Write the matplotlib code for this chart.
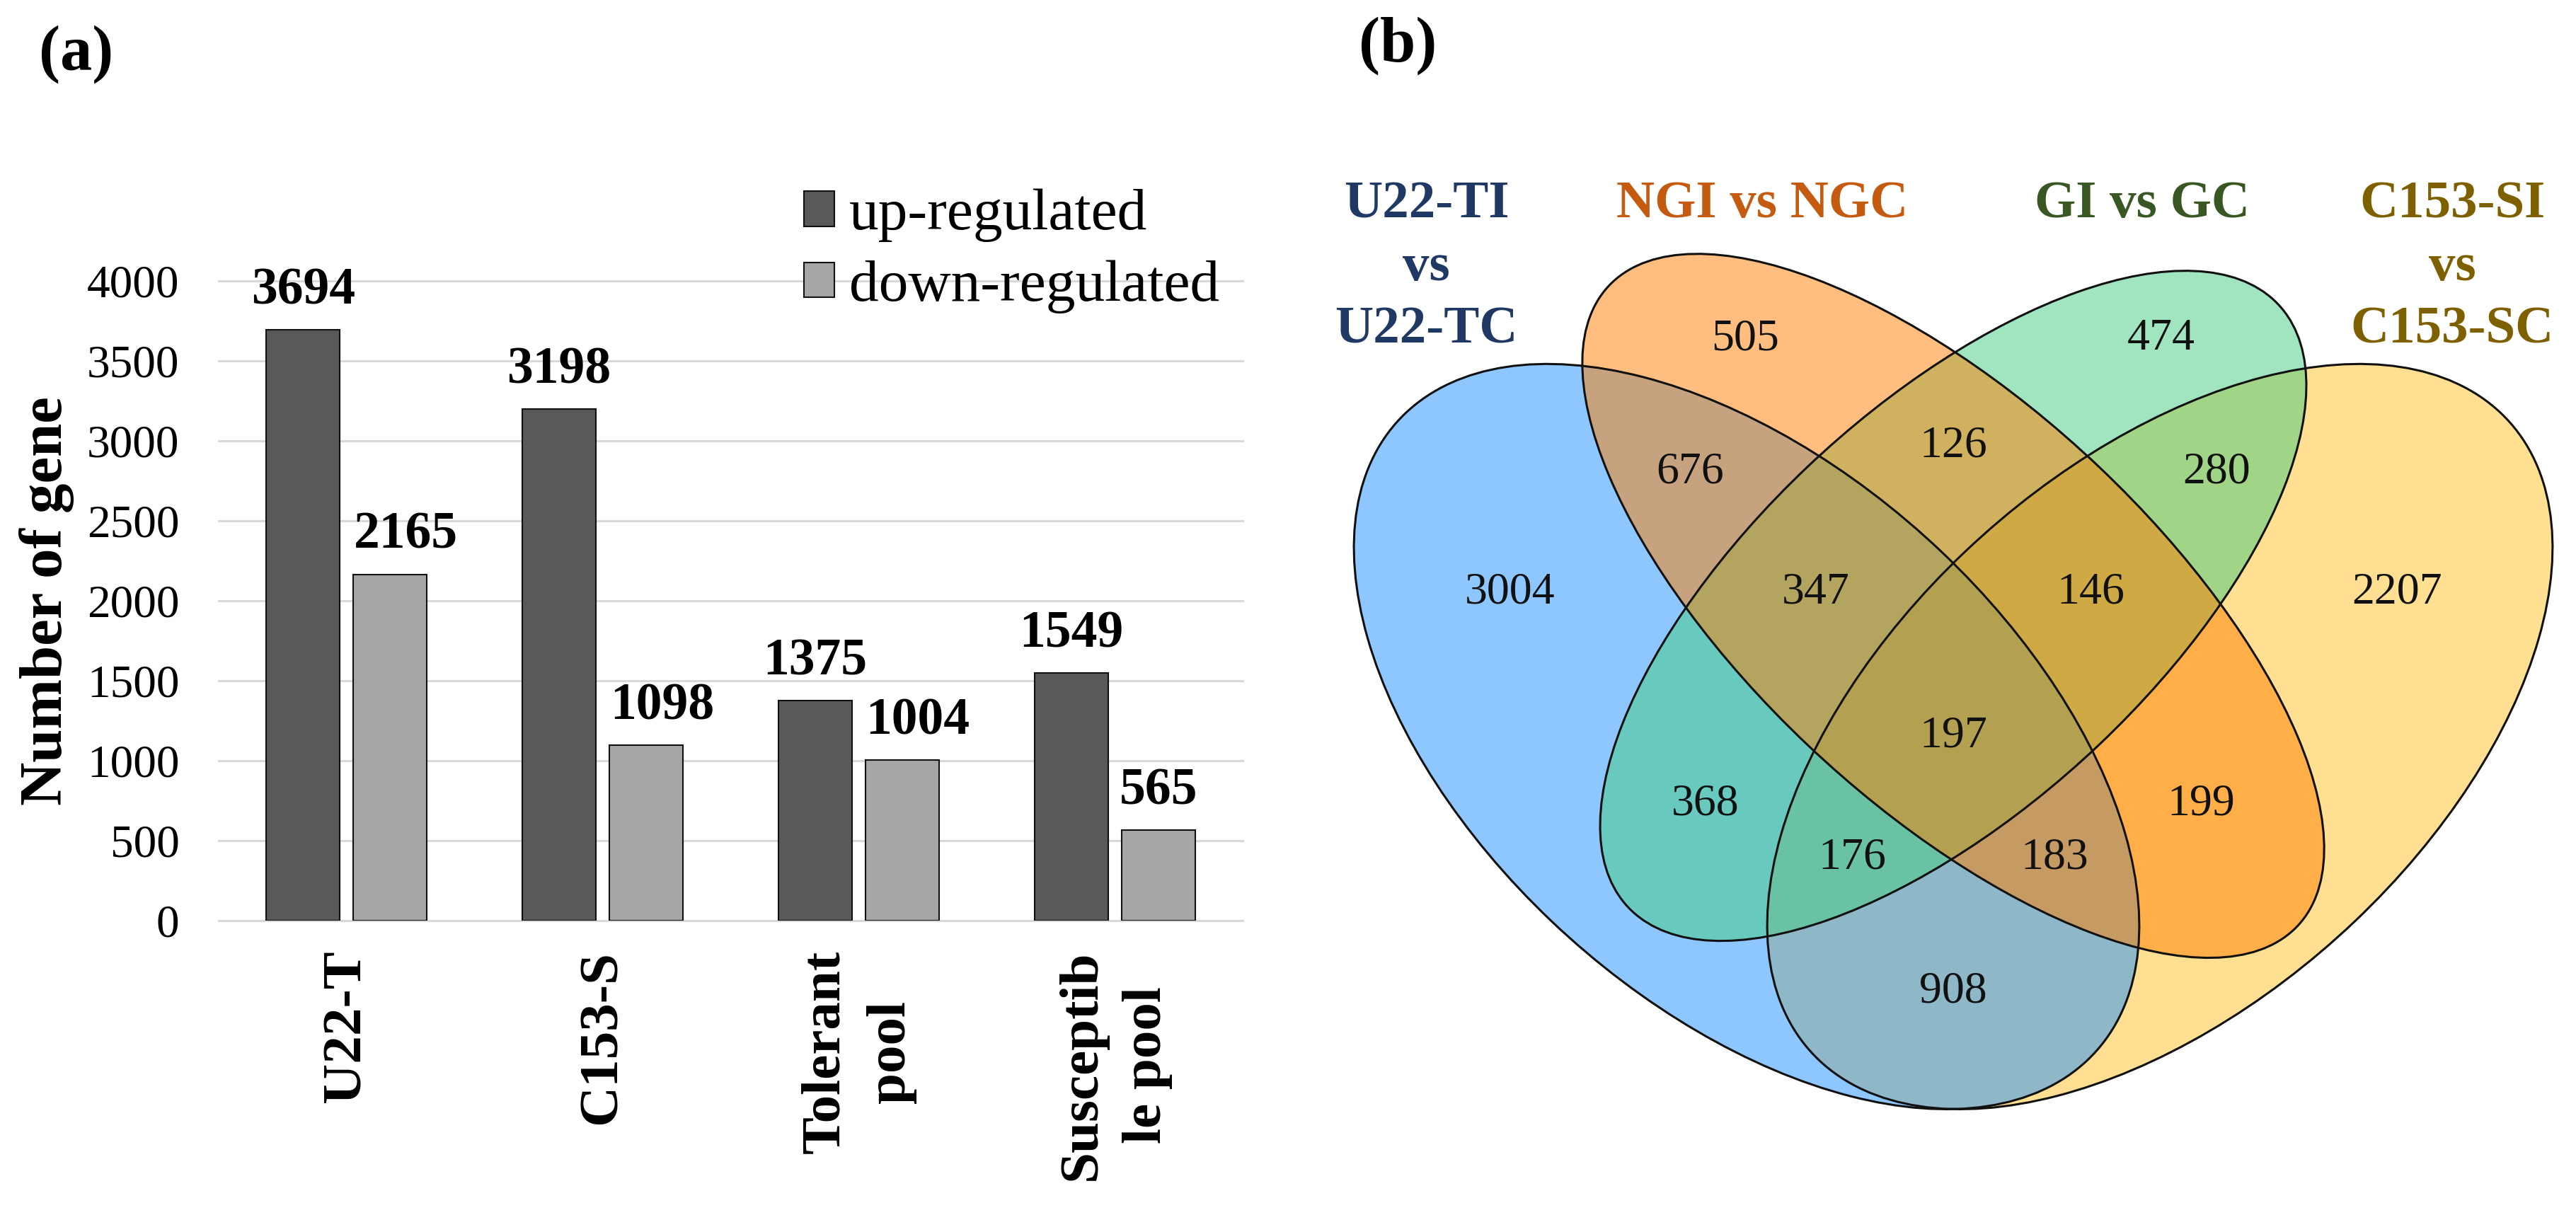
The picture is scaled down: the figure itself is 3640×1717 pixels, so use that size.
import matplotlib
matplotlib.use("Agg")
import matplotlib.pyplot as plt
from matplotlib.patches import Ellipse, Patch
from matplotlib.colors import to_rgba
import numpy as np

plt.rcParams['font.family'] = ['Liberation Serif', 'DejaVu Serif']

# ---------------- data: panel (a) ----------------
categories = ['U22-T', 'C153-S', 'Tolerant\npool', 'Susceptib\nle pool']
up_regulated = [3694, 3198, 1375, 1549]
down_regulated = [2165, 1098, 1004, 565]
series_names = ['up-regulated', 'down-regulated']
y_ticks = [0, 500, 1000, 1500, 2000, 2500, 3000, 3500, 4000]
y_label = 'Number of gene'

# ---------------- data: panel (b) ----------------
set_names = ['U22-TI\nvs\nU22-TC', 'NGI vs NGC', 'GI vs GC', 'C153-SI\nvs\nC153-SC']
# region keys: A=U22, B=NGI, C=GI, D=C153
region_keys = ['A', 'B', 'C', 'D', 'AB', 'BC', 'CD', 'ABC', 'BCD', 'ABCD',
               'AC', 'BD', 'ACD', 'ABD', 'AD']
region_counts = [3004, 505, 474, 2207, 676, 126, 280, 347, 146, 197,
                 368, 199, 176, 183, 908]

# ---------------- layout / style ----------------
W, H = 3641, 1717
fig = plt.figure(figsize=(W / 100, H / 100), dpi=100)

# panel (a) axes
ax = fig.add_axes([309 / W, 1 - 1301 / H, (1756 - 309) / W, (1301 - 397) / H])
x = np.arange(len(categories))
bw = 0.2875
off = 0.17
dark, light = '#595959', '#a6a6a6'
b1 = ax.bar(x - off, up_regulated, bw, color=dark, edgecolor='#111111', linewidth=1.5,
            label=series_names[0], zorder=3)
b2 = ax.bar(x + off, down_regulated, bw, color=light, edgecolor='#111111', linewidth=1.5,
            label=series_names[1], zorder=3)
ax.bar_label(b1, padding=15, fontsize=53, fontweight='bold')
down_texts = ax.bar_label(b2, padding=15, fontsize=53, fontweight='bold')
down_label_dx = [16, 16, 16, 0]  # label nudges (points), as in the original figure
for t, dx in zip(down_texts, down_label_dx):
    t.xyann = (dx, 15)
ax.set_xlim(-0.5, len(categories) - 0.5)
ax.set_ylim(0, 4000)
ax.set_yticks(y_ticks)
ax.set_yticklabels([str(v) for v in y_ticks], fontsize=47)
ax.set_xticks(x)
ax.set_xticklabels(categories, rotation=90, fontsize=57, fontweight='bold',
                   linespacing=1.4, multialignment='center')
ax.tick_params(axis='y', length=0, pad=40)
ax.tick_params(axis='x', length=0, pad=30)
for s in ax.spines.values():
    s.set_visible(False)
ax.yaxis.grid(True, color='#d9d9d9', linewidth=2.2, zorder=0)
ax.set_axisbelow(True)
for gl in ax.get_ygridlines():
    gl.set_clip_on(False)

fig.text(66 / W, 1 - 849 / H, y_label, rotation=90, ha='center', va='center',
         fontsize=61, fontweight='bold')

handles = [Patch(facecolor=dark, edgecolor='#111111', linewidth=1.5),
           Patch(facecolor=light, edgecolor='#111111', linewidth=1.5)]
ax.legend(handles, series_names, loc='upper left', bbox_to_anchor=(1136 / W, 1 - 267 / H),
          bbox_transform=fig.transFigure, frameon=False, fontsize=60,
          handlelength=0.52, handleheight=0.53, handletextpad=0.25,
          labelspacing=0.3, borderpad=0, borderaxespad=0)

fig.text(55 / W, 1 - 35 / H, '(a)', fontsize=65, fontweight='bold', ha='left', va='top')
fig.text(1920 / W, 1 - 23 / H, '(b)', fontsize=65, fontweight='bold', ha='left', va='top')

# panel (b) venn axes (units of the VennDiagram quad layout)
axv = fig.add_axes([1884 / W, 0.0495, (3636 - 1884) / W, 0.8069])
axv.set_xlim(0.05, 0.95)
axv.set_ylim(0.15, 0.9)
axv.axis('off')

ellipse_geom = {  # x, y, a, b, rotation
    'D': (0.65, 0.47, 0.35, 0.20, 45),
    'A': (0.35, 0.47, 0.35, 0.20, 135),
    'C': (0.50, 0.57, 0.33, 0.15, 45),
    'B': (0.50, 0.57, 0.35, 0.15, 135),
}
fill_colors = {'A': '#1E90FF', 'B': '#FF7F00', 'C': '#43CD80', 'D': '#FFC125'}
draw_order = ['D', 'A', 'C', 'B']
for k in draw_order:
    cx, cy, a, b, r = ellipse_geom[k]
    axv.add_patch(Ellipse((cx, cy), 2 * a, 2 * b, angle=r,
                          facecolor=to_rgba(fill_colors[k], 0.5), edgecolor='none'))
for k in draw_order:
    cx, cy, a, b, r = ellipse_geom[k]
    axv.add_patch(Ellipse((cx, cy), 2 * a, 2 * b, angle=r,
                          facecolor='none', edgecolor='#111111', linewidth=2.2))

label_pos = {
    'A': (0.178, 0.580), 'B': (0.349, 0.774), 'C': (0.651, 0.774), 'D': (0.822, 0.580),
    'AB': (0.309, 0.672), 'BC': (0.500, 0.692), 'CD': (0.691, 0.672),
    'ABC': (0.400, 0.580), 'BCD': (0.600, 0.580), 'ABCD': (0.500, 0.470),
    'AC': (0.320, 0.418), 'BD': (0.680, 0.418), 'ACD': (0.4265, 0.377),
    'ABD': (0.5735, 0.377), 'AD': (0.500, 0.275),
}
for key, cnt in zip(region_keys, region_counts):
    px, py = label_pos[key]
    axv.text(px, py, str(cnt), ha='center', va='center', fontsize=46, color='#111111')

title_pos = [(0.1177, 0.8953), (0.3613, 0.8953), (0.6372, 0.8953), (0.8623, 0.8953)]
title_colors = ['#1F3864', '#C55A11', '#385723', '#7F6000']
for name, (tx, ty), c in zip(set_names, title_pos, title_colors):
    axv.text(tx, ty, name, ha='center', va='top', fontsize=54, fontweight='bold',
             color=c, linespacing=1.4, multialignment='center', clip_on=False)

fig.savefig('out.png', dpi=100)
